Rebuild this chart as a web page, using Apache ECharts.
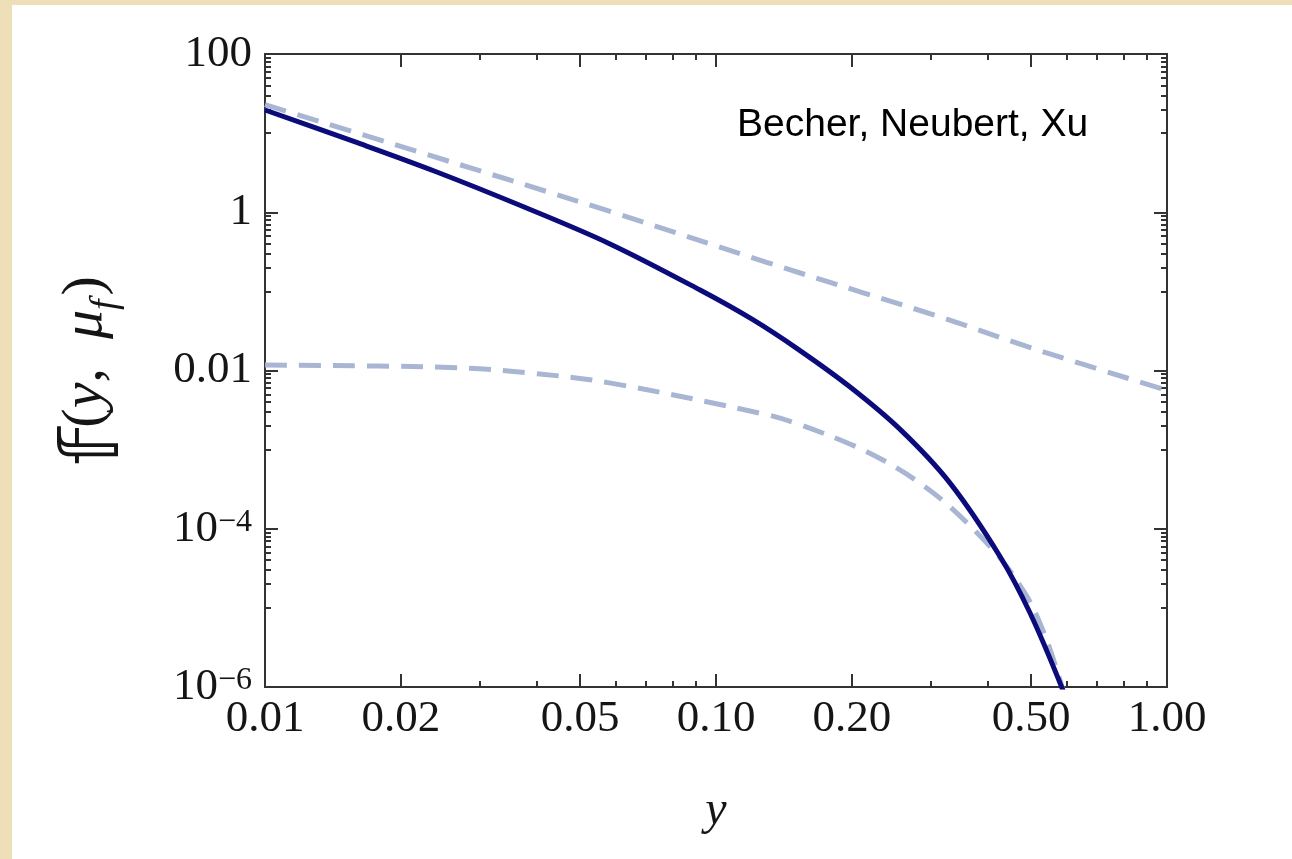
<!DOCTYPE html>
<html>
<head>
<meta charset="utf-8">
<script src="https://cdn.jsdelivr.net/npm/echarts@6/dist/echarts.min.js"></script>
<style>
  html, body { margin: 0; padding: 0; }
  body {
    width: 1292px; height: 859px; overflow: hidden;
    background: #efdfb8;
    position: relative;
  }
  #paper { position: absolute; left: 12px; top: 5px; right: 0; bottom: 0; background: #fff; }
  #main { position: absolute; left: 0; top: 0; width: 1292px; height: 859px; }
</style>
</head>
<body>
<div id="paper"></div>
<div id="main"></div>
<script>
// ---- data ----
const xSolid = [0.01, 0.01585, 0.0238, 0.0372, 0.0582, 0.0922, 0.1202, 0.153, 0.198, 0.256, 0.330, 0.427, 0.497, 0.584, 0.60];
const ySolid = [19.6, 7.73, 3.30, 1.19, 0.398, 0.104, 0.0445, 0.0181, 0.00622, 0.0018, 3.8e-4, 4.4e-5, 8.6e-6, 1.0e-6, 6e-7];

const xUpper = [0.01, 0.0221, 0.0573, 0.1295, 0.212, 0.3248, 0.50, 1.0];
const yUpper = [22.9, 5.70, 1.054, 0.233, 0.0959, 0.0447, 0.0193, 0.00562];

const xLower = [0.01, 0.0257, 0.0387, 0.0576, 0.1295, 0.153, 0.198, 0.2344, 0.2786, 0.330, 0.419, 0.489, 0.530, 0.570, 0.603];
const yLower = [0.0117, 0.01094, 0.00929, 0.00703, 0.00277, 0.00208, 0.00118, 7.4e-4, 4.04e-4, 1.9e-4, 4.8e-5, 1.4e-5, 5.3e-6, 1.64e-6, 5.4e-7];

const xMajor = [0.01, 0.02, 0.05, 0.1, 0.2, 0.5, 1];
const xLabels = ['0.01', '0.02', '0.05', '0.10', '0.20', '0.50', '1.00'];
const xMinor = [0.03, 0.04, 0.06, 0.07, 0.08, 0.09, 0.3, 0.4, 0.6, 0.7, 0.8, 0.9];

const yMajor = [1e-6, 1e-4, 0.01, 1, 100];
const yLabels = ['10^−6', '10^−4', '0.01', '1', '100'];
const yMinor = [
  9e-5, 8e-5, 7e-5, 6e-5, 5e-5, 4e-5, 3e-5, 2e-5, 1e-5,
  0.009, 0.008, 0.007, 0.006, 0.005, 0.004, 0.003, 0.002, 0.001,
  0.9, 0.8, 0.7, 0.6, 0.5, 0.4, 0.3, 0.2, 0.1,
  90, 80, 70, 60, 50, 40, 30, 20, 10
];

const serif = 'Liberation Serif';
const axisColor = '#333';
const ink = '#151515';

function pick(vals, labels, v) {
  let best = 0;
  vals.forEach((t, i) => {
    if (Math.abs(Math.log10(t) - Math.log10(v)) < Math.abs(Math.log10(vals[best]) - Math.log10(v))) best = i;
  });
  return labels[best];
}

function xAx(pos, ticks, len, labels) {
  return {
    type: 'log', logBase: 10, min: 0.01, max: 1, position: pos,
    axisLine: { show: true, onZero: false, lineStyle: { color: axisColor, width: 2 } },
    axisTick: { show: true, inside: true, length: len, customValues: ticks, lineStyle: { color: axisColor, width: 2 } },
    axisLabel: labels ? {
      show: true, customValues: ticks, margin: 10,
      fontFamily: serif, fontSize: 45, color: ink,
      formatter: v => pick(xMajor, xLabels, v)
    } : { show: false },
    splitLine: { show: false }
  };
}

function yAx(pos, ticks, len, labels) {
  return {
    type: 'log', logBase: 10, min: 1e-6, max: 100, position: pos,
    axisLine: { show: true, onZero: false, lineStyle: { color: axisColor, width: 2 } },
    axisTick: { show: true, inside: true, length: len, customValues: ticks, lineStyle: { color: axisColor, width: 2 } },
    axisLabel: labels ? {
      show: true, customValues: ticks, margin: 13,
      fontFamily: serif, fontSize: 45, color: ink,
      formatter: v => {
        const s = pick(yMajor, yLabels, v);
        if (s.indexOf('^') < 0) return s;
        const p = s.split('^');
        return '{b|' + p[0] + '}{s|' + p[1] + '}';
      },
      rich: {
        b: { fontFamily: serif, fontSize: 45, lineHeight: 45, verticalAlign: 'bottom', color: ink },
        s: { fontFamily: serif, fontSize: 32, lineHeight: 32, verticalAlign: 'top', padding: [0, 0, 20, 0], color: ink }
      }
    } : { show: false },
    splitLine: { show: false }
  };
}

const chart = echarts.init(document.getElementById('main'));

const xAxes = [
  xAx('bottom', xMajor, 13, true),
  xAx('bottom', xMinor, 6, false),
  xAx('top', xMajor, 13, false),
  xAx('top', xMinor, 6, false)
];
xAxes[0].name = 'y';
xAxes[0].nameLocation = 'middle';
xAxes[0].nameGap = 100;
xAxes[0].nameTextStyle = { fontFamily: serif, fontStyle: 'italic', fontSize: 48, color: ink };

const yAxes = [
  yAx('left', yMajor, 13, true),
  yAx('left', yMinor, 6, false),
  yAx('right', yMajor, 13, false),
  yAx('right', yMinor, 6, false)
];
yAxes[0].name = '{d|𝕗}{n|(}{i|y}{n|,  }{i|μ}{sub|f}{n|)}';
yAxes[0].nameLocation = 'middle';
yAxes[0].nameRotate = 90;
yAxes[0].nameGap = 140;
yAxes[0].nameTextStyle = {
  fontFamily: serif, fontSize: 58, color: ink,
  rich: {
    d: { fontFamily: 'DejaVu Sans', fontSize: 80, lineHeight: 68, verticalAlign: 'top', color: ink },
    n: { fontFamily: serif, fontSize: 58, lineHeight: 68, verticalAlign: 'top', color: ink },
    i: { fontFamily: serif, fontStyle: 'italic', fontSize: 58, lineHeight: 68, verticalAlign: 'top', color: ink },
    sub: { fontFamily: serif, fontStyle: 'italic', fontSize: 38, lineHeight: 38, verticalAlign: 'bottom', padding: [34, 4, 0, 0], color: ink }
  }
};

const pairs = (xs, ys) => xs.map((x, i) => [x, ys[i]]);

chart.setOption({
  animation: false,
  backgroundColor: 'transparent',
  grid: { left: 265, top: 54, width: 902, height: 633, containLabel: false },
  xAxis: xAxes,
  yAxis: yAxes,
  graphic: [{
    type: 'text', left: 737, top: 106,
    style: { text: 'Becher, Neubert, Xu', font: '39px "Liberation Sans", Arial, sans-serif', fill: '#000' }
  }],
  series: [
    {
      name: 'upper', type: 'line', xAxisIndex: 0, yAxisIndex: 0,
      data: pairs(xUpper, yUpper), smooth: 0.35, showSymbol: false, symbol: 'none',
      lineStyle: { color: '#a9b6d3', width: 5, type: [22, 12], cap: 'butt' }, z: 2
    },
    {
      name: 'lower', type: 'line', xAxisIndex: 0, yAxisIndex: 0,
      data: pairs(xLower, yLower), smooth: 0.35, showSymbol: false, symbol: 'none',
      lineStyle: { color: '#a9b6d3', width: 5, type: [22, 12], cap: 'butt' }, z: 2
    },
    {
      name: 'full', type: 'line', xAxisIndex: 0, yAxisIndex: 0,
      data: pairs(xSolid, ySolid), smooth: 0.35, showSymbol: false, symbol: 'none',
      lineStyle: { color: '#0b0b7c', width: 5 }, z: 3
    }
  ]
});
</script>
</body>
</html>
